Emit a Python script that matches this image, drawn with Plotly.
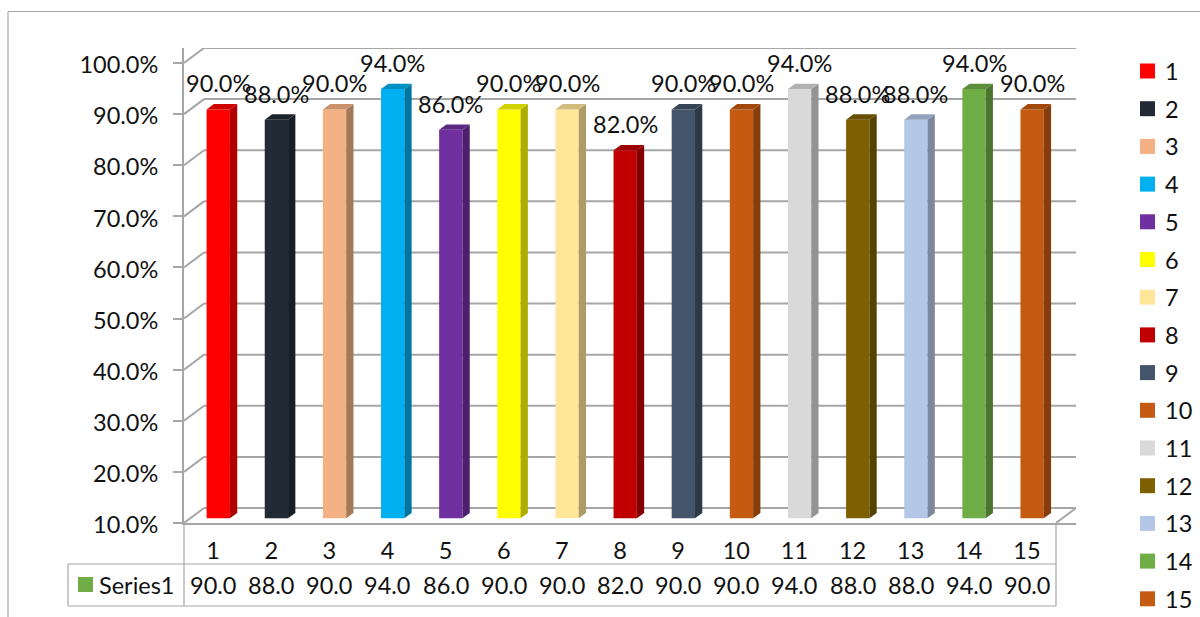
import plotly.graph_objects as go

categories = [str(i) for i in range(1, 16)]
values = [90, 88, 90, 94, 86, 90, 90, 82, 90, 90, 94, 88, 88, 94, 90]
colors = ["#ff0000", "#222b35", "#f4b183", "#00b0f0", "#7030a0", "#ffff00", "#ffe699", "#c00000",
          "#44546a", "#c55a11", "#d9d9d9", "#7f6000", "#b4c7e7", "#70ad47", "#c55a11"]
y_ticks = [10, 20, 30, 40, 50, 60, 70, 80, 90, 100]
series_name = "Series1"
series_color = "#70ad47"

W, H = 1200, 617
L, R, T, B = 184, 1076, 48, 523
CAT = (1056 - 184) / 15
UNIT = (523 - 63) / 90
FONT = "Lato"
FS = 23.5
TXT = "#111111"
GRID = "#a6a6a6"
# oblique projection offsets
WALL_X, WALL_Y = 20 / CAT, 15 / UNIT
BAR_X, BAR_Y = 5.2 / CAT, 4.7 / UNIT
BAR_W = 23.3 / CAT
DEP_X, DEP_Y = 7.3 / CAT, 5.3 / UNIT
X0 = 0.5
X1 = 15.5
XMAX = X0 + (R - L) / CAT
YMAX = 10 + (B - T) / UNIT
LEG_Y0, LEG_STEP = 71, 37.7


def shade(c, f):
    r, g, b = int(c[1:3], 16), int(c[3:5], 16), int(c[5:7], 16)
    return "#%02x%02x%02x" % (int(r * f), int(g * f), int(b * f))


def px(x):
    return (x - L) / (R - L)


def py(y):
    return (B - y) / (B - T)


fig = go.Figure()

for i, (cat, v, c) in enumerate(zip(categories, values, colors)):
    xc = i + 1 + BAR_X
    base = 10 + BAR_Y
    top = v + BAR_Y
    xl, xr = xc - BAR_W / 2, xc + BAR_W / 2
    fig.add_trace(go.Bar(x=[xc], y=[v - 10], base=[base], width=[BAR_W], marker=dict(color=c, line=dict(width=0)),
                         name=cat, showlegend=False, hoverinfo="skip"))
    fig.add_trace(go.Scatter(x=[xr, xr + DEP_X, xr + DEP_X, xr, xr], y=[base, base + DEP_Y, top + DEP_Y, top, base],
                             mode="lines", fill="toself", fillcolor=shade(c, 0.68), line=dict(width=0),
                             showlegend=False, hoverinfo="skip"))
    fig.add_trace(go.Scatter(x=[xl, xl + DEP_X, xr + DEP_X, xr, xl], y=[top, top + DEP_Y, top + DEP_Y, top, top],
                             mode="lines", fill="toself", fillcolor=shade(c, 0.82), line=dict(width=0),
                             showlegend=False, hoverinfo="skip"))

shapes = []
line = dict(color=GRID, width=2)
thin = dict(color=GRID, width=1.2)
# back wall gridlines and left wall diagonals
for t in y_ticks:
    shapes.append(dict(type="line", xref="x", yref="y", x0=X0, x1=X0 + WALL_X, y0=t, y1=t + WALL_Y, line=line, layer="below"))
    shapes.append(dict(type="line", xref="x", yref="y", x0=X0 + WALL_X, x1=XMAX, y0=t + WALL_Y, y1=t + WALL_Y, line=line, layer="below"))
shapes.append(dict(type="line", xref="x", yref="y", x0=X1, x1=X1 + WALL_X, y0=10, y1=10 + WALL_Y, line=line, layer="below"))
# table frame
for (x0, y0, x1, y1) in [(68, 564, 1056, 564), (68, 606, 1056, 606), (68, 564, 68, 606),
                         (184, 523, 184, 606), (1056, 523, 1056, 606)]:
    shapes.append(dict(type="line", xref="paper", yref="paper", x0=px(x0), x1=px(x1), y0=py(y0), y1=py(y1), line=thin))
# chart frame
for (x0, y0, x1, y1) in [(8, 11.5, 1200, 11.5), (8, 11.5, 8, 617)]:
    shapes.append(dict(type="line", xref="paper", yref="paper", x0=px(x0), x1=px(x1), y0=py(y0), y1=py(y1), line=thin))
# table swatch
shapes.append(dict(type="rect", xref="paper", yref="paper", x0=px(78), x1=px(93), y0=py(592), y1=py(577),
                   fillcolor=series_color, line=dict(width=0)))

annotations = []
for i, v in enumerate(values):
    annotations.append(dict(x=i + 1 + BAR_X, y=v + BAR_Y, xref="x", yref="y", text=f"{v:.1f}%", showarrow=False,
                            xanchor="center", yanchor="middle", yshift=26, font=dict(family=FONT, size=FS, color=TXT)))
    annotations.append(dict(x=i + 1, y=py(585), xref="x", yref="paper", text=f"{v:.1f}", showarrow=False,
                            xanchor="center", yanchor="middle", font=dict(family=FONT, size=FS, color=TXT)))
annotations.append(dict(x=px(99), y=py(585), xref="paper", yref="paper", xanchor="left", yanchor="middle",
                        text=series_name, showarrow=False, xshift=-2, font=dict(family=FONT, size=FS, color=TXT)))

# legend column
for i, (cat, c) in enumerate(zip(categories, colors)):
    yc = LEG_Y0 + i * LEG_STEP
    shapes.append(dict(type="rect", xref="paper", yref="paper", x0=px(1140), x1=px(1155), y0=py(yc + 7.5), y1=py(yc - 7.5),
                       fillcolor=c, line=dict(width=0)))
    annotations.append(dict(x=px(1163), y=py(yc), xref="paper", yref="paper", xanchor="left", yanchor="middle",
                            text=cat, showarrow=False, font=dict(family=FONT, size=FS, color=TXT)))

fig.update_layout(
    width=W, height=H, autosize=False,
    margin=dict(l=L, r=W - R, t=T, b=H - B, pad=0),
    paper_bgcolor="white", plot_bgcolor="white",
    barmode="overlay",
    font=dict(family=FONT, size=FS, color=TXT),
    shapes=shapes, annotations=annotations,
    showlegend=False,
    xaxis=dict(range=[X0, XMAX], tickmode="array", tickvals=list(range(1, 16)),
               ticktext=categories, showgrid=False, zeroline=False, showline=True, linecolor=GRID, linewidth=2,
               ticks="", ticklabelstandoff=6),
    yaxis=dict(range=[10, YMAX], tickmode="array", tickvals=y_ticks,
               ticktext=[f"{t:.1f}%" for t in y_ticks], showgrid=False, zeroline=False, showline=True,
               linecolor=GRID, linewidth=2, ticks="outside", ticklen=9, tickwidth=2, tickcolor=GRID,
               ticklabelstandoff=10, ticklabelshift=2),
)
fig.write_html("out.html", config={"displayModeBar": False},
               post_script="document.body.style.margin='0';document.body.style.overflow='hidden';")
